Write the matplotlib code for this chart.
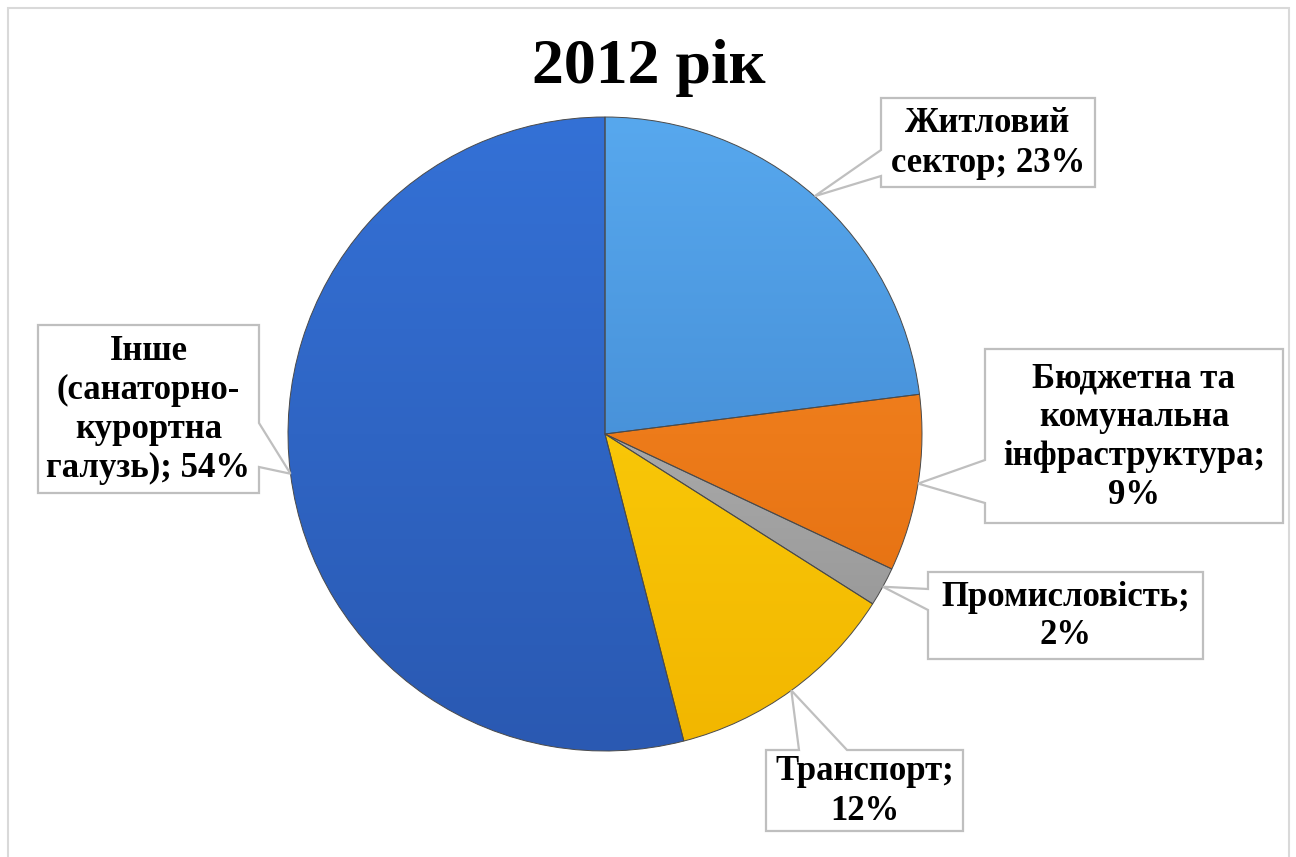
import numpy as np
import matplotlib
matplotlib.use("Agg")
import matplotlib.pyplot as plt
from matplotlib.patches import Polygon, Rectangle
from matplotlib.colors import LinearSegmentedColormap

# ---- data ----
title = "2012 рік"
categories = ["Житловий сектор", "Бюджетна та комунальна інфраструктура", "Промисловість",
              "Транспорт", "Інше (санаторно-курортна галузь)"]
label_texts = ["Житловий\nсектор; 23%", "Бюджетна та\nкомунальна\nінфраструктура;\n9%",
               "Промисловість;\n2%", "Транспорт;\n12%", "Інше\n(санаторно-\nкурортна\nгалузь); 54%"]
values = [23, 9, 2, 12, 54]
color_top = ["#57A8EE", "#FA8C28", "#C4C4C4", "#FFD80F", "#3471D6"]
color_bot = ["#3A7DC6", "#E06A0C", "#8E8E8E", "#F2B600", "#2A59B2"]

# ---- layout (pixel units of the 1296x857 canvas) ----
W, H = 1296, 857
CX, CY, R = 605, 434, 317
boxes = [
    ((881, 98, 1095, 187), "left", (150, 176)),
    ((985, 349, 1283, 523), "left", (460, 503)),
    ((928, 572, 1203, 659), "left", (589, 610)),
    ((766, 750, 963, 831), "top", (799, 847)),
    ((38, 325, 259, 493), "right", (423, 467)),
]

fig = plt.figure(figsize=(W / 100, H / 100), dpi=100)
ax = fig.add_axes([0, 0, 1, 1])

def px(x, y):
    return ((x - CX) / R, (CY - y) / R)

wedges, _ = ax.pie(values, startangle=90, counterclock=False, radius=1.0, center=(0, 0),
                   colors=color_top, frame=True,
                   wedgeprops=dict(edgecolor="#4a4a4a", linewidth=0.7))
ax.set_xlim(-CX / R, (W - CX) / R)
ax.set_ylim((CY - H) / R, CY / R)
ax.set_aspect("auto")
ax.axis("off")

# outer frame
fx0, fy0 = px(8, 8)
fx1, fy1 = px(1289, 870)
ax.add_patch(Rectangle((fx0, fy1), fx1 - fx0, fy0 - fy1, fill=False,
                       edgecolor="#D9D9D9", lw=1.5, zorder=1))

# vertical gradients inside each wedge
for w, ct, cb in zip(wedges, color_top, color_bot):
    cmap = LinearSegmentedColormap.from_list("g", [cb, ct])
    grad = np.linspace(0, 1, 256).reshape(-1, 1)
    im = ax.imshow(grad, cmap=cmap, extent=(-1, 1, -1, 1), origin="lower",
                   aspect="auto", zorder=2)
    im.set_clip_path(w)
    w.set_zorder(3)
    w.set_facecolor("none")
ax.set_xlim(-CX / R, (W - CX) / R)
ax.set_ylim((CY - H) / R, CY / R)

# labels with callout pointers
angles = []
start = 90.0
total = sum(values)
for v in values:
    sweep = 360.0 * v / total
    angles.append(start - sweep / 2)
    start -= sweep

for (bx, side, span), txt, ang in zip(boxes, label_texts, angles):
    x0, y0, x1, y1 = bx
    tip = (np.cos(np.deg2rad(ang)), np.sin(np.deg2rad(ang)))
    a, b = span
    if side == "left":
        pts = [px(x0, y0), px(x1, y0), px(x1, y1), px(x0, y1), px(x0, b), tip, px(x0, a)]
    elif side == "right":
        pts = [px(x0, y0), px(x1, y0), px(x1, a), tip, px(x1, b), px(x1, y1), px(x0, y1)]
    else:  # top
        pts = [px(x0, y0), px(a, y0), tip, px(b, y0), px(x1, y0), px(x1, y1), px(x0, y1)]
    ax.add_patch(Polygon(pts, closed=True, facecolor="white", edgecolor="#BFBFBF",
                         lw=1.6, zorder=5))
    tx, ty = px((x0 + x1) / 2, (y0 + y1) / 2 + 1)
    ax.text(tx, ty, txt, ha="center", va="center", fontsize=25, fontweight="bold",
            family="Liberation Serif", color="black", linespacing=1.24, zorder=6)

tx, ty = px(649, 68)
ax.text(tx, ty, title, ha="center", va="center", fontsize=46, fontweight="bold",
        family="Liberation Serif", color="black", zorder=6)

fig.savefig("out.png", dpi=100, facecolor="white")
